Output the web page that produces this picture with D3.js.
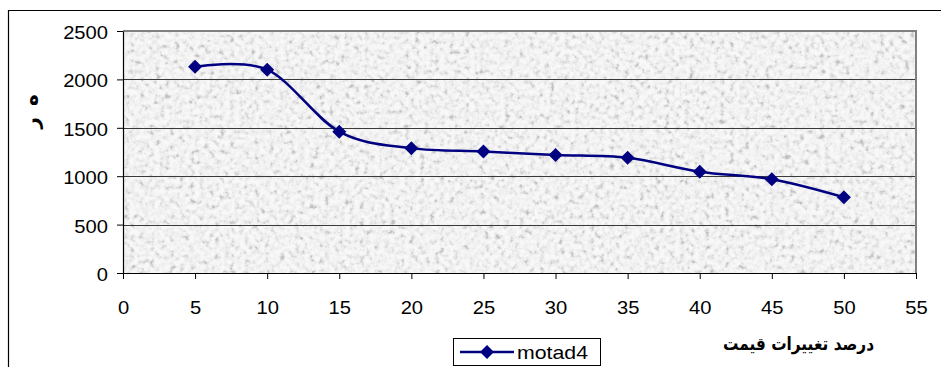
<!DOCTYPE html>
<html>
<head>
<meta charset="utf-8">
<script src="https://cdn.jsdelivr.net/npm/d3@7"></script>
<style>
  html, body { margin: 0; padding: 0; background: #fff; }
  svg { display: block; }
  text { font-family: "Liberation Sans", Arial, sans-serif; }
</style>
</head>
<body>
<script>
// Percentage of price change (x) and the resulting value (y)
const priceChange = [5, 10, 15, 20, 25, 30, 35, 40, 45, 50];
const motad4 = [2130, 2100, 1460, 1290, 1255, 1220, 1190, 1047, 968, 782];
const xTicks = [0, 5, 10, 15, 20, 25, 30, 35, 40, 45, 50, 55];
const yTicks = [0, 500, 1000, 1500, 2000, 2500];
const seriesName = "motad4";
const xTitle = "درصد تغییرات قیمت";
const yTitleGlyphs = ["ه", "ر"];

const W = 941, H = 367;
const plot = { left: 123, right: 916, top: 31, bottom: 273 };
const WIDEN = 1.12; // glyphs are drawn a little wider than their natural width

const svg = d3.select("body").append("svg").attr("width", W).attr("height", H);

function widen(sel, k = WIDEN) {
  sel.each(function () {
    const len = this.getComputedTextLength();
    d3.select(this).attr("textLength", len * k).attr("lengthAdjust", "spacingAndGlyphs");
  });
}

// grainy grey fill for the plot area
const defs = svg.append("defs");
const f = defs.append("filter").attr("id", "grain")
  .attr("x", 0).attr("y", 0).attr("width", 1).attr("height", 1)
  .attr("color-interpolation-filters", "sRGB");
f.append("feTurbulence").attr("type", "fractalNoise")
  .attr("baseFrequency", 0.2).attr("numOctaves", 3).attr("seed", 7).attr("result", "n");
f.append("feColorMatrix").attr("in", "n").attr("type", "matrix")
  .attr("values",
    "1.4 1.4 0 0 -0.76  1.4 1.4 0 0 -0.76  1.4 1.4 0 0 -0.76  0 0 0 0 1")
  .attr("result", "g");
f.append("feComponentTransfer").attr("in", "g")
  .call(s => {
    ["feFuncR", "feFuncG", "feFuncB"].forEach(c =>
      s.append(c).attr("type", "table")
        .attr("tableValues", "0.76 0.84 0.895 0.93 0.952 0.966 0.976"));
  });

const x = d3.scaleLinear().domain([0, 55]).range([plot.left, plot.right]);
const y = d3.scaleLinear().domain([0, 2500]).range([plot.bottom, plot.top]);

// outer chart frame (top and left edges)
svg.append("path")
  .attr("d", `M${W},10.5 H8.5 V${H}`)
  .attr("fill", "none").attr("stroke", "#000").attr("stroke-width", 1.2);

// plot background
svg.append("rect")
  .attr("x", plot.left).attr("y", plot.top)
  .attr("width", plot.right - plot.left).attr("height", plot.bottom - plot.top)
  .attr("fill", "#ececec").attr("filter", "url(#grain)");

// horizontal gridlines
svg.append("g").selectAll("line")
  .data(yTicks.filter(d => d > 0 && d < 2500))
  .join("line")
  .attr("x1", plot.left).attr("x2", plot.right)
  .attr("y1", d => Math.round(y(d)) + 0.5).attr("y2", d => Math.round(y(d)) + 0.5)
  .attr("stroke", "#3a3a3a").attr("stroke-width", 1);

// plot border (grey top/right)
svg.append("path")
  .attr("d", `M${plot.left},${plot.top} H${plot.right} V${plot.bottom}`)
  .attr("fill", "none").attr("stroke", "#808080").attr("stroke-width", 2);

// axes
const yAxis = d3.axisLeft(y).tickValues(yTicks).tickFormat(d3.format("d"))
  .tickSize(6).tickPadding(9).tickSizeOuter(0);
const xAxis = d3.axisBottom(x).tickValues(xTicks).tickFormat(d3.format("d"))
  .tickSize(6).tickPadding(22).tickSizeOuter(0);

const gy = svg.append("g").attr("transform", `translate(${plot.left},0)`).call(yAxis);
const gx = svg.append("g").attr("transform", `translate(0,${plot.bottom})`).call(xAxis);
[gx, gy].forEach(g => {
  g.select(".domain").attr("stroke", "#000").attr("stroke-width", 1.2);
  g.selectAll(".tick line").attr("stroke", "#000");
  g.selectAll("text").attr("fill", "#000").style("font-size", "18px")
    .style("font-family", "'Liberation Sans', Arial, sans-serif")
    .call(widen);
});
gy.selectAll("text").attr("dy", "0.42em");

// series line, smoothed
const line = d3.line()
  .x((d, i) => x(priceChange[i]))
  .y(d => y(d))
  .curve(d3.curveCatmullRom.alpha(0));

svg.append("path")
  .datum(motad4)
  .attr("d", line)
  .attr("fill", "none").attr("stroke", "#000080").attr("stroke-width", 2.5);

const diamond = d3.symbol().type(d3.symbolSquare).size(98);
svg.append("g").selectAll("path")
  .data(motad4)
  .join("path")
  .attr("d", diamond)
  .attr("transform", (d, i) => `translate(${x(priceChange[i])},${y(d)}) rotate(45)`)
  .attr("fill", "#000080");

// y-axis title (rotated glyphs)
yTitleGlyphs.forEach((g, i) => {
  svg.append("text")
    .attr("transform", `translate(${31},${100 + i * 23}) rotate(-90)`)
    .attr("text-anchor", "middle").attr("dominant-baseline", "central")
    .style("font-size", "20px").style("font-weight", "bold")
    .style("font-family", "'DejaVu Sans', sans-serif")
    .text(g);
});

// x-axis title
svg.append("text")
  .attr("x", 874).attr("y", 350)
  .attr("text-anchor", "end")
  .attr("textLength", 151).attr("lengthAdjust", "spacingAndGlyphs")
  .style("font-size", "18px").style("font-weight", "bold")
  .style("font-family", "'DejaVu Sans', sans-serif")
  .text(xTitle);

// legend
const lg = svg.append("g");
lg.append("rect")
  .attr("x", 453.5).attr("y", 338.5).attr("width", 147).attr("height", 27)
  .attr("fill", "#fff").attr("stroke", "#000").attr("stroke-width", 1);
lg.append("line")
  .attr("x1", 460).attr("x2", 514).attr("y1", 352).attr("y2", 352)
  .attr("stroke", "#000080").attr("stroke-width", 2.5);
lg.append("path")
  .attr("d", diamond)
  .attr("transform", "translate(487,352) rotate(45)")
  .attr("fill", "#000080");
lg.append("text")
  .attr("x", 517).attr("y", 359)
  .style("font-size", "19px")
  .text(seriesName)
  .call(widen);
</script>
</body>
</html>
